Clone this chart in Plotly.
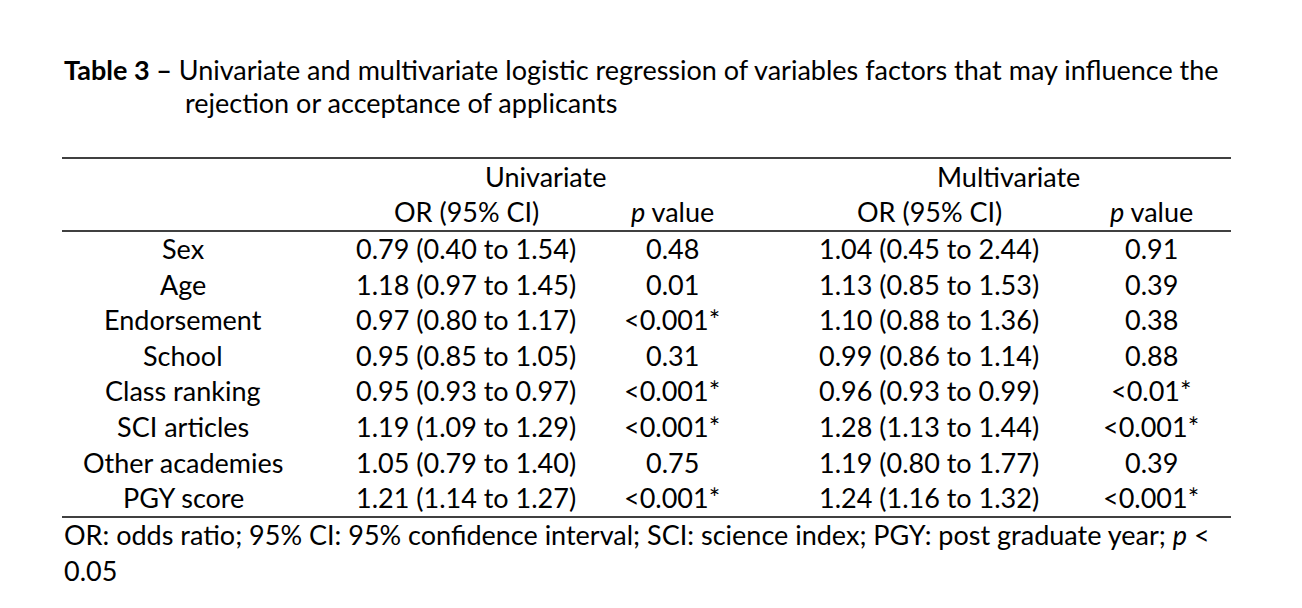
import plotly.graph_objects as go

variables = ["Sex", "Age", "Endorsement", "School", "Class ranking",
             "SCI articles", "Other academies", "PGY score"]
uni_or = ["0.79 (0.40 to 1.54)", "1.18 (0.97 to 1.45)", "0.97 (0.80 to 1.17)",
          "0.95 (0.85 to 1.05)", "0.95 (0.93 to 0.97)", "1.19 (1.09 to 1.29)",
          "1.05 (0.79 to 1.40)", "1.21 (1.14 to 1.27)"]
uni_p = ["0.48", "0.01", "<0.001*", "0.31", "<0.001*", "<0.001*", "0.75", "<0.001*"]
multi_or = ["1.04 (0.45 to 2.44)", "1.13 (0.85 to 1.53)", "1.10 (0.88 to 1.36)",
            "0.99 (0.86 to 1.14)", "0.96 (0.93 to 0.99)", "1.28 (1.13 to 1.44)",
            "1.19 (0.80 to 1.77)", "1.24 (1.16 to 1.32)"]
multi_p = ["0.91", "0.39", "0.38", "0.88", "<0.01*", "<0.001*", "0.39", "<0.001*"]

group_headers = ["Univariate", "Multivariate"]
sub_headers = ["OR (95% CI)", "<i>p</i> value", "OR (95% CI)", "<i>p</i> value"]

title_bold = "Table 3 \u2013"
title_line1 = " Univariate and multivariate logistic regression of variables factors that may influence the"
title_line2 = "rejection or acceptance of applicants"
footnote_line1 = "OR: odds ratio; 95% CI: 95% confidence interval; SCI: science index; PGY: post graduate year; <i>p</i> <"
footnote_line2 = "0.05"

FONT = "Lato"
FS = 27
W, H = 1302, 608

# layout positions (pixels)
col_x = [183, 466, 672, 929, 1151]
group_x = [545, 1008]
left, right = 62, 1231
row_y0, row_h = 248.5, 35.6
dy = -1.5

fig = go.Figure()
ann = []

def txt(x, y, s, anchor="center", size=FS):
    ann.append(dict(x=x, y=y + dy, text=s, xref="x", yref="y", showarrow=False,
                    xanchor=anchor, yanchor="middle",
                    font=dict(family=FONT, size=size, color="black")))

txt(left, 71, "<b>" + title_bold + "</b>" + title_line1, anchor="left")
txt(183, 104, title_line2, anchor="left")

for gx, g in zip(group_x, group_headers):
    txt(gx, 178, g)
for cx, s in zip(col_x[1:], sub_headers):
    txt(cx, 213, s)

for i, v in enumerate(variables):
    y = row_y0 + 1.5 + i * row_h
    for cx, s in zip(col_x, [v, uni_or[i], uni_p[i], multi_or[i], multi_p[i]]):
        txt(cx, y, s)

txt(left, 536, footnote_line1, anchor="left")
txt(left, 572, footnote_line2, anchor="left")

shapes = []
for ly in [158, 231, 517]:
    shapes.append(dict(type="line", xref="x", yref="y", x0=left, x1=right, y0=ly, y1=ly,
                       line=dict(color="black", width=1.3)))

fig.update_layout(
    width=W, height=H, margin=dict(l=0, r=0, t=0, b=0),
    paper_bgcolor="white", plot_bgcolor="white",
    xaxis=dict(range=[0, W], visible=False, fixedrange=True),
    yaxis=dict(range=[H, 0], visible=False, fixedrange=True),
    annotations=ann, shapes=shapes, showlegend=False,
)

fig.write_html("out.html", config={"displayModeBar": False},
               post_script="document.body.style.margin='0';document.body.style.overflow='hidden';")
